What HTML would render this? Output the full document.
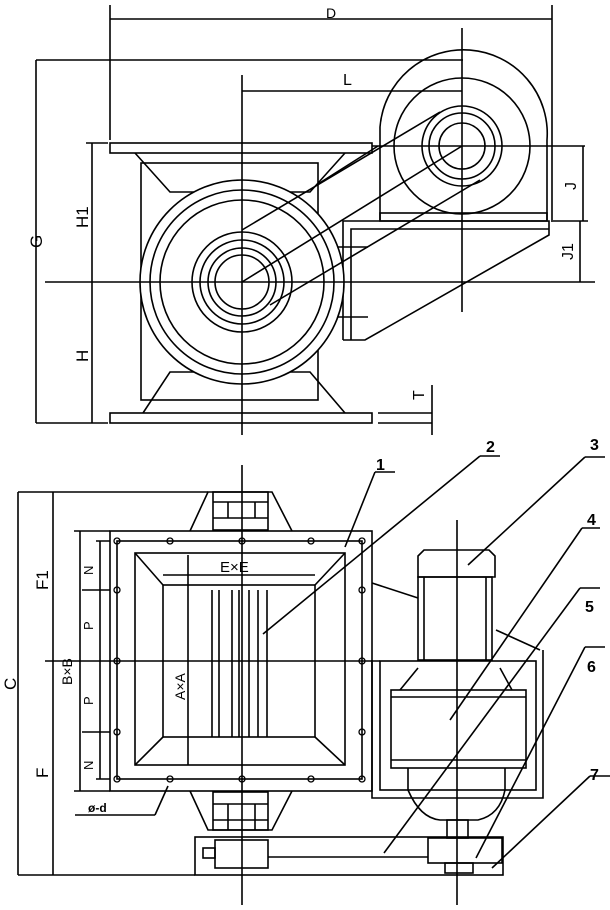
<!DOCTYPE html>
<html><head><meta charset="utf-8"><style>
html,body{margin:0;padding:0;background:#fff;width:610px;height:910px;overflow:hidden}
svg{display:block}
text{font-family:"Liberation Sans",sans-serif;fill:#000}
</style></head><body>
<svg width="610" height="910" viewBox="0 0 610 910" xmlns="http://www.w3.org/2000/svg">
<g stroke="#000" stroke-width="1.6" fill="none">
<!-- ===== TOP VIEW ===== -->
<line x1="110" y1="5" x2="110" y2="140"/><line x1="552" y1="5" x2="552" y2="222"/>
<line x1="110" y1="19" x2="552" y2="19"/>
<line x1="36" y1="60" x2="36" y2="423"/><line x1="36" y1="60" x2="463" y2="60"/>
<line x1="36" y1="423" x2="108" y2="423"/>
<line x1="92" y1="143" x2="92" y2="423"/><line x1="86" y1="143" x2="108" y2="143"/>
<line x1="45" y1="282" x2="595" y2="282"/>
<line x1="242" y1="75" x2="242" y2="435"/>
<line x1="462" y1="28" x2="462" y2="312"/>
<line x1="242" y1="91" x2="462" y2="91"/>
<rect x="110" y="143" width="262" height="10"/>
<rect x="110" y="413" width="262" height="10"/>
<polyline points="135,153 170,192 310,192 345,153"/>
<polyline points="143,413 170,372 310,372 345,413"/>
<rect x="141" y="163" width="177" height="237"/>
<path d="M380,220 V127 A83,83 0 0 1 547,140 V220"/>
<rect x="380" y="213" width="167" height="8"/>
<line x1="372" y1="146" x2="585" y2="146"/>
<circle cx="462" cy="146" r="68"/>
<polyline points="343,340 343,221 549,221 549,235 365,340 343,340"/>
<polyline points="351,340 351,229 549,229"/>
<line x1="335" y1="247" x2="368" y2="247"/><line x1="335" y1="317" x2="368" y2="317"/>
<circle cx="242" cy="282" r="102" fill="#fff"/>
<circle cx="242" cy="282" r="92"/>
<circle cx="242" cy="282" r="82"/>
<line x1="440" y1="112" x2="242" y2="230"/>
<line x1="378" y1="146" x2="318" y2="184"/>
<line x1="462" y1="146" x2="242" y2="282"/>
<line x1="480" y1="180" x2="270" y2="305"/>
<circle cx="242" cy="282" r="50"/><circle cx="242" cy="282" r="42"/>
<circle cx="242" cy="282" r="34"/><circle cx="242" cy="282" r="27"/>
<circle cx="462" cy="146" r="40"/><circle cx="462" cy="146" r="33"/><circle cx="462" cy="146" r="23"/>
<line x1="242" y1="180" x2="242" y2="384"/><line x1="140" y1="282" x2="344" y2="282"/>
<line x1="583" y1="146" x2="583" y2="221"/><line x1="553" y1="221" x2="588" y2="221"/>
<line x1="580" y1="221" x2="580" y2="282"/>
<line x1="432" y1="385" x2="432" y2="435"/>
<line x1="378" y1="413" x2="432" y2="413"/><line x1="378" y1="423" x2="432" y2="423"/>

<!-- ===== BOTTOM VIEW ===== -->
<line x1="18" y1="492" x2="18" y2="875"/><line x1="53" y1="492" x2="53" y2="875"/>
<line x1="18" y1="492" x2="208" y2="492"/><line x1="18" y1="875" x2="195" y2="875"/>
<line x1="80" y1="531" x2="80" y2="791"/><line x1="74" y1="531" x2="110" y2="531"/><line x1="74" y1="791" x2="110" y2="791"/>
<line x1="100" y1="541" x2="100" y2="779"/><line x1="96" y1="541" x2="117" y2="541"/><line x1="96" y1="779" x2="117" y2="779"/>
<line x1="82" y1="590" x2="117" y2="590"/><line x1="82" y1="732" x2="117" y2="732"/>
<polyline points="190,531 208,492 272,492 292,531"/>
<rect x="213" y="492" width="55" height="38"/><line x1="213" y1="502" x2="268" y2="502"/><line x1="213" y1="518" x2="268" y2="518"/>
<line x1="228" y1="502" x2="228" y2="518"/><line x1="255" y1="502" x2="255" y2="518"/>
<polyline points="190,791 208,830 272,830 292,791"/>
<rect x="213" y="792" width="55" height="38"/><line x1="213" y1="804" x2="268" y2="804"/><line x1="213" y1="820" x2="268" y2="820"/>
<line x1="228" y1="804" x2="228" y2="830"/><line x1="255" y1="804" x2="255" y2="830"/>
<rect x="110" y="531" width="262" height="260" fill="#fff"/>
<rect x="117" y="541" width="245" height="238"/>
<rect x="135" y="553" width="210" height="212"/>
<rect x="163" y="585" width="152" height="152"/>
<line x1="135" y1="553" x2="163" y2="585"/><line x1="345" y1="553" x2="315" y2="585"/>
<line x1="135" y1="765" x2="163" y2="737"/><line x1="345" y1="765" x2="315" y2="737"/>
<line x1="212" y1="590" x2="212" y2="737"/><line x1="219" y1="590" x2="219" y2="737"/>
<line x1="232" y1="590" x2="232" y2="737"/><line x1="239" y1="590" x2="239" y2="737"/>
<line x1="249" y1="590" x2="249" y2="737"/><line x1="258" y1="590" x2="258" y2="737"/><line x1="267" y1="590" x2="267" y2="737"/>
<line x1="188" y1="555" x2="188" y2="765"/>
<line x1="163" y1="575" x2="315" y2="575"/>
<line x1="242" y1="465" x2="242" y2="905"/>
<line x1="457" y1="520" x2="457" y2="905"/>
<line x1="45" y1="661" x2="380" y2="661"/>
<g stroke-width="1.3">
<circle cx="117" cy="541" r="3"/><circle cx="170" cy="541" r="3"/><circle cx="242" cy="541" r="3"/><circle cx="311" cy="541" r="3"/><circle cx="362" cy="541" r="3"/>
<circle cx="117" cy="779" r="3"/><circle cx="170" cy="779" r="3"/><circle cx="242" cy="779" r="3"/><circle cx="311" cy="779" r="3"/><circle cx="362" cy="779" r="3"/>
<circle cx="117" cy="590" r="3"/><circle cx="117" cy="661" r="3"/><circle cx="117" cy="732" r="3"/>
<circle cx="362" cy="590" r="3"/><circle cx="362" cy="661" r="3"/><circle cx="362" cy="732" r="3"/>
</g>
<path d="M418,577 V556 L424,550 H489 L495,556 V577 Z"/>
<rect x="418" y="577" width="74" height="83"/>
<line x1="424" y1="577" x2="424" y2="660"/><line x1="486" y1="577" x2="486" y2="660"/>
<line x1="372" y1="583" x2="418" y2="598"/><line x1="496" y1="630" x2="540" y2="650"/>
<polyline points="372,660 372,798 543,798 543,650"/>
<rect x="380" y="661" width="156" height="129"/>
<rect x="391" y="690" width="135" height="78"/>
<line x1="391" y1="697" x2="526" y2="697"/><line x1="391" y1="760" x2="526" y2="760"/>
<polyline points="418,668 400,690"/><polyline points="500,668 512,690"/>
<path d="M408,768 V790 Q420,818 440,820 H478 Q500,815 505,790 V768"/>
<rect x="447" y="820" width="21" height="18"/>
<rect x="195" y="837" width="308" height="38"/>
<rect x="215" y="840" width="53" height="28"/><rect x="203" y="848" width="12" height="10"/>
<rect x="428" y="838" width="74" height="25"/><rect x="445" y="863" width="28" height="10"/>
<line x1="268" y1="857" x2="428" y2="857"/>
<line x1="345" y1="547" x2="375" y2="472"/><line x1="375" y1="472" x2="395" y2="472"/>
<line x1="263" y1="634" x2="480" y2="456"/><line x1="480" y1="456" x2="500" y2="456"/>
<line x1="468" y1="565" x2="585" y2="457"/><line x1="585" y1="457" x2="605" y2="457"/>
<line x1="450" y1="720" x2="582" y2="528"/><line x1="582" y1="528" x2="600" y2="528"/>
<line x1="384" y1="853" x2="580" y2="588"/><line x1="580" y1="588" x2="600" y2="588"/>
<line x1="476" y1="858" x2="585" y2="647"/><line x1="585" y1="647" x2="605" y2="647"/>
<line x1="492" y1="868" x2="590" y2="776"/><line x1="590" y1="776" x2="610" y2="776"/>
<line x1="75" y1="815" x2="155" y2="815"/><line x1="155" y1="815" x2="168" y2="786"/>
</g>
<g font-size="16">
<text x="326" y="18" font-size="14">D</text>
<text x="343" y="85">L</text>
<text transform="translate(42,248) rotate(-90)" font-size="17">G</text>
<text transform="translate(88,228) rotate(-90)" font-size="17">H1</text>
<text transform="translate(88,362) rotate(-90)" font-size="17">H</text>
<text transform="translate(576,190) rotate(-90)">J</text>
<text transform="translate(573,260) rotate(-90)">J1</text>
<text transform="translate(424,400) rotate(-90)">T</text>
<text transform="translate(16,690) rotate(-90)" font-size="17">C</text>
<text transform="translate(48,590) rotate(-90)" font-size="17">F1</text>
<text transform="translate(48,778) rotate(-90)" font-size="17">F</text>
<text transform="translate(72,685) rotate(-90)" font-size="14">B×B</text>
<text transform="translate(93,575) rotate(-90)" font-size="13">N</text>
<text transform="translate(93,630) rotate(-90)" font-size="13">P</text>
<text transform="translate(93,705) rotate(-90)" font-size="13">P</text>
<text transform="translate(93,770) rotate(-90)" font-size="13">N</text>
<text transform="translate(185,700) rotate(-90)" font-size="14">A×A</text>
<text x="220" y="572" font-size="15">E×E</text>
<text x="88" y="812" font-size="12" font-weight="bold">ø-d</text>
</g>
<g font-size="16" font-weight="bold">
<text x="376" y="470">1</text><text x="486" y="452">2</text><text x="590" y="450">3</text>
<text x="587" y="525">4</text><text x="585" y="612">5</text><text x="587" y="672">6</text><text x="590" y="780">7</text>
</g>
</svg>
</body></html>
